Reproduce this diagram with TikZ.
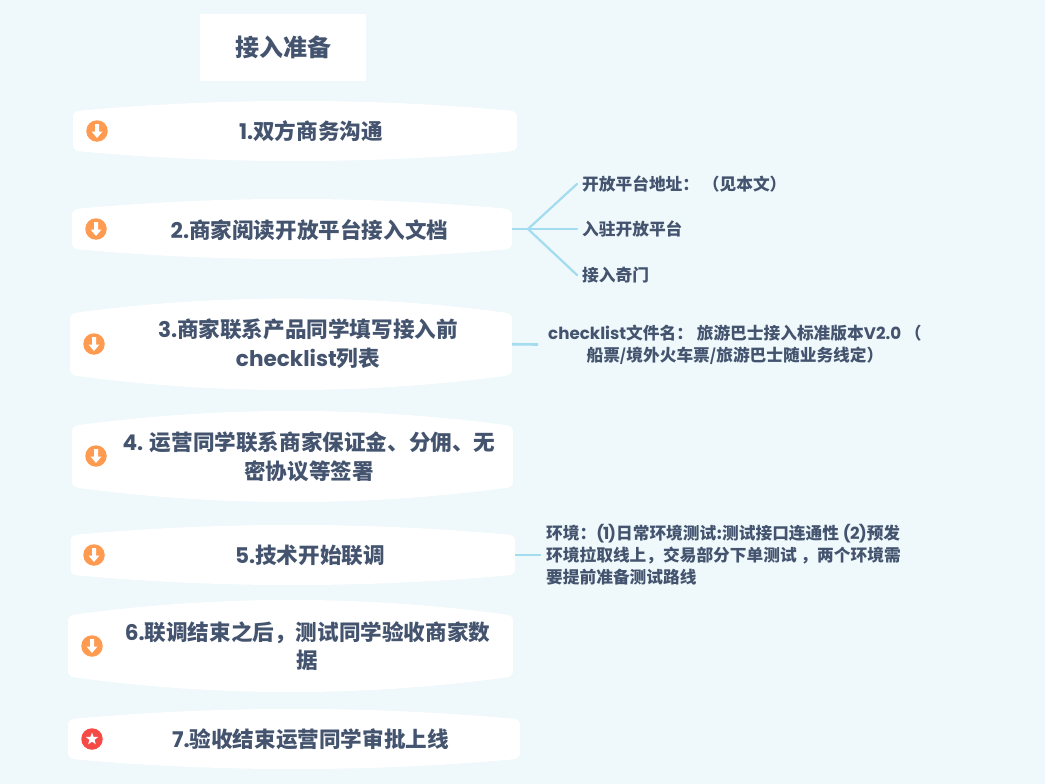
\documentclass[tikz,border=0pt]{standalone}
\usepackage{fontspec}
\setmainfont{Noto Sans CJK SC}
\newfontfamily\poppinsfont{Poppins}
\newcommand{\la}[1]{{\poppinsfont\bfseries #1}}
\usetikzlibrary{shapes.geometric}
\definecolor{bgc}{HTML}{EFF8FB}
\definecolor{inkc}{HTML}{44546F}
\definecolor{linkc}{HTML}{A3DCEF}
\definecolor{orangec}{HTML}{FF9B50}
\definecolor{redc}{HTML}{F54A45}
\tikzset{
  x=1pt,y=-1pt,
  maintext/.style={text=inkc,font=\fontsize{21.6}{28.5}\selectfont\bfseries,align=center,inner sep=0pt},
  sidetext/.style={text=inkc,font=\fontsize{16.7}{22}\selectfont\bfseries,inner ysep=0pt,inner xsep=5pt},
  icondot/.style={circle,fill=#1,minimum size=21.5pt,inner sep=0pt},
  stem/.style={draw=linkc,line width=2.6pt},
  twig/.style={draw=linkc,line width=2.2pt,line cap=round},
}
\newcommand{\pill}[6]{% name x1 x2 ytop ybot bulge
  \pgfmathsetmacro{\plw}{#3-#2}
  \pgfmathsetmacro{\plca}{#2+.33*\plw}\pgfmathsetmacro{\plcb}{#3-.33*\plw}
  \pgfmathsetmacro{\pltc}{#4+#6}\pgfmathsetmacro{\plbc}{#5-#6}
  \pgfmathsetmacro{\pltk}{\pltc-#6/.75}\pgfmathsetmacro{\plbk}{\plbc+#6/.75}
  \pgfmathsetmacro{\plxa}{#2+6}\pgfmathsetmacro{\plxb}{#3-6}
  \pgfmathsetmacro{\plty}{\pltc+6}\pgfmathsetmacro{\plby}{\plbc-6}
  \fill[white] (#2,\plty) .. controls (#2,\pltc+2.5) and (#2+2.5,\pltc+.4) .. (\plxa,\pltc-.3)
    .. controls (\plca,\pltk) and (\plcb,\pltk) .. (\plxb,\pltc-.3)
    .. controls (#3-2.5,\pltc+.4) and (#3,\pltc+2.5) .. (#3,\plty)
    -- (#3,\plby) .. controls (#3,\plbc-2.5) and (#3-2.5,\plbc-.4) .. (\plxb,\plbc+.3)
    .. controls (\plcb,\plbk) and (\plca,\plbk) .. (\plxa,\plbc+.3)
    .. controls (#2+2.5,\plbc-.4) and (#2,\plbc-2.5) .. (#2,\plby) -- cycle;
  \pgfmathsetmacro{\plmx}{(#2+#3)/2}\pgfmathsetmacro{\plmy}{(#4+#5)/2}
  \pgfmathsetmacro{\plh}{#5-#4}
  \node[inner sep=0pt,outer sep=0pt,minimum width=\plw pt,minimum height=\plh pt] (#1) at (\plmx,\plmy) {};
}
\newcommand{\downicon}[3]{% name x y
  \node[icondot=orangec] (#1) at (#2,#3) {};
  \begin{scope}[shift={(#2,#3)}]
    \fill[white] (-2,-7) -- (2,-7) -- (2,.5) -- (5.5,.5) -- (0,7) -- (-5.5,.5) -- (-2,.5) -- cycle;
  \end{scope}
}
\begin{document}
\begin{tikzpicture}
\fill[bgc] (0,0) rectangle (1045,784);
\useasboundingbox (0,0) rectangle (1045,784);

\node[fill=white,inner sep=0pt,minimum width=166pt,minimum height=67pt,text=inkc,font=\fontsize{24}{28}\selectfont\bfseries] (title) at (283,47.5) {接入准备};

\pill{p1}{73}{517}{101}{161}{10}
\pill{p2}{72}{512}{199}{259}{10}
\pill{p3}{70}{512}{298.5}{390}{14.5}
\pill{p4}{72}{513}{411}{502}{14.5}
\pill{p5}{70.5}{515}{525}{585}{10}
\pill{p6}{68}{513}{600}{692}{15}
\pill{p7}{68}{520}{709}{769}{10}

\node[maintext] (t1) at (311,131) {\la{1.}双方商务沟通};
\node[maintext] (t2) at (309.5,230) {\la{2.}商家阅读开放平台接入文档};
\node[maintext] (t3) at (308,344) {\la{3.}商家联系产品同学填写接入前\\\la{checklist}列表};
\node[maintext] (t4) at (309,457) {\la{4.} 运营同学联系商家保证金、分佣、无\\密协议等签署};
\node[maintext] (t5) at (310,555) {\la{5.}技术开始联调};
\node[maintext] (t6) at (307.5,646) {\la{6.}联调结束之后，测试同学验收商家数\\据};
\node[maintext] (t7) at (310.5,739) {\la{7.}验收结束运营同学审批上线};

\downicon{i1}{97}{131}
\downicon{i2}{96}{229}
\downicon{i3}{94}{344}
\downicon{i4}{96}{456}
\downicon{i5}{94}{555}
\downicon{i6}{92}{646}
\node[icondot=redc] (i7) at (92,739) {};
\node[star,star points=5,star point ratio=2.4,fill=white,minimum size=13pt,inner sep=0pt] (i7s) at (92,739) {};

\coordinate (j) at (528,229);
\node[sidetext,anchor=west] (s1) at (577,184) {开放平台地址： （见本文）};
\node[sidetext,anchor=west] (s2) at (577,229) {入驻开放平台};
\node[sidetext,anchor=west] (s3) at (577,275) {接入奇门};
\node[sidetext,anchor=west,align=center,inner xsep=10pt] (s4) at (538,344.5) {\la{checklist}文件名： 旅游巴士接入标准版本\la{V2.0} （\\船票/境外火车票/旅游巴士随业务线定）};
\node[sidetext,anchor=west,align=left] (s5) at (541,555) {环境：\la{(}\hspace{-1.2pt}\la{1}\hspace{-1.2pt}\la{)}日常环境测试:测试接口连通性 \la{(}\hspace{-.8pt}\la{2}\hspace{-.8pt}\la{)}预发\\环境拉取线上，交易部分下单测试 ，两个环境需\\要提前准备测试路线};

\draw[stem] (p2.east) -- (j);
\draw[twig] (j) -- (s1.west);
\draw[twig] (j) -- (s2.west);
\draw[twig] (j) -- (s3.west);
\draw[stem] (p3.east) -- (s4.west);
\draw[stem] (p5.east) -- (s5.west);
\end{tikzpicture}
\end{document}
